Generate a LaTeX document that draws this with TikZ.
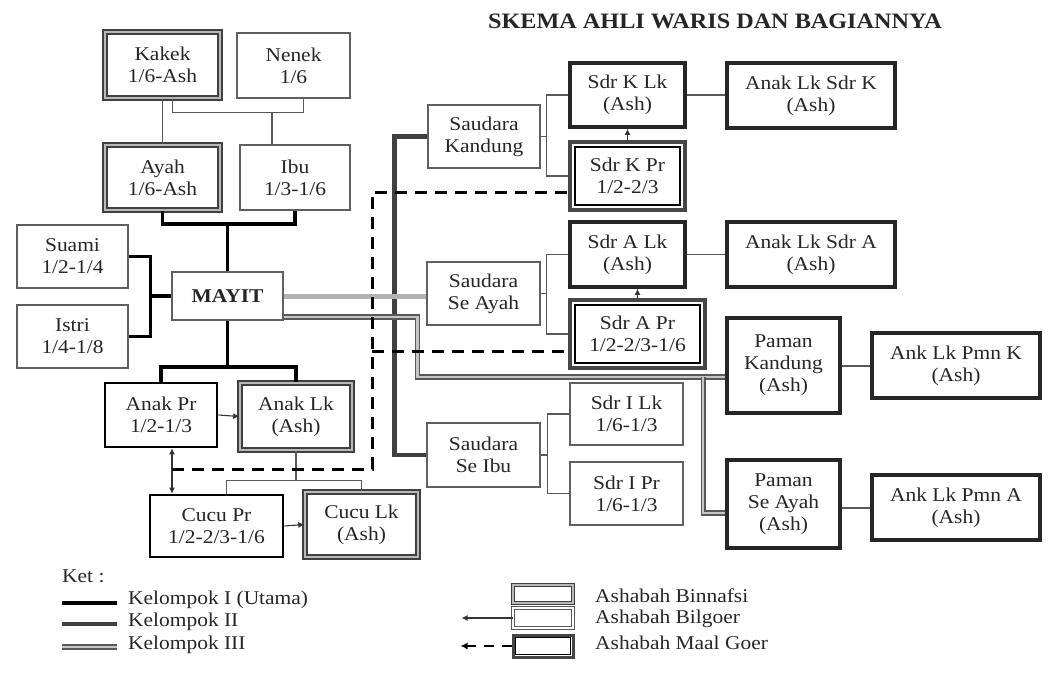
\documentclass[tikz,border=0pt]{standalone}
\usepackage{fontspec}
\setmainfont[FakeStretch=1.1]{Liberation Serif}
\usetikzlibrary{arrows.meta,calc}
\begin{document}
\begin{tikzpicture}[x=1pt,y=-1pt,
  box/.style={rectangle, inner sep=0pt, align=center, font=\fontsize{19.5}{22}\selectfont, text=black!85, fill=white},
  thinbox/.style={box, draw=gray!75!black, line width=1.3},
  blkbox/.style={box, draw=black, line width=2.6},
  ashbox/.style={box, draw=black!85, line width=3.6},
  binbox/.style={box, draw=black!75, line width=1.4, double=gray!55, double distance=2.6},
  maalbox/.style={box, draw=gray!55!black, line width=4.5},
  maalin/.style={draw=black, line width=2.2},
  thinline/.style={draw=gray!70!black, line width=1.3},
  k1/.style={draw=black, line width=3.6},
  k2/.style={draw=gray!50!black, line width=4.6},
  k2b/.style={draw=gray!60, line width=5},
  k3/.style={draw=black!65, line width=1.5, double=gray!45, double distance=2.4},
  bil/.style={draw=black!80, line width=1.1, -{Latex[length=6pt,width=6pt]}},
  bilboth/.style={draw=black!80, line width=1.1, {Latex[length=6pt,width=6pt]}-{Latex[length=6pt,width=6pt]}},
  maal/.style={draw=black, line width=3, dash pattern=on 12pt off 8pt},
  legtext/.style={anchor=west, inner sep=0pt, font=\fontsize{19.5}{22}\selectfont, text=black!85}
]
\useasboundingbox (0,0) rectangle (1054,685);

% title
\node[font=\fontsize{22}{24}\selectfont\bfseries, text=black!85] (title) at (715,21) {SKEMA AHLI WARIS DAN BAGIANNYA};

% left family
\node[binbox, minimum width=115, minimum height=66] (kakek) at (162.5,65) {Kakek\\1/6-Ash};
\node[thinbox, minimum width=113, minimum height=65] (nenek) at (293.5,65.5) {Nenek\\1/6};
\node[binbox, minimum width=115, minimum height=65] (ayah) at (162.5,177.5) {Ayah\\1/6-Ash};
\node[thinbox, minimum width=110, minimum height=65] (ibu) at (295,177.5) {Ibu\\1/3-1/6};
\node[thinbox, minimum width=111, minimum height=63] (suami) at (72.5,256.5) {Suami\\1/2-1/4};
\node[thinbox, minimum width=111, minimum height=63] (istri) at (72.5,336.5) {Istri\\1/4-1/8};
\node[thinbox, minimum width=111, minimum height=48, font=\fontsize{19.5}{22}\selectfont\bfseries] (mayit) at (227.5,296) {MAYIT};
\node[blkbox, minimum width=112, minimum height=64] (anakpr) at (161,415) {Anak Pr\\1/2-1/3};
\node[binbox, minimum width=112, minimum height=67] (anaklk) at (296,416.5) {Anak Lk\\(Ash)};
\node[blkbox, minimum width=133, minimum height=62] (cucupr) at (216.5,526) {Cucu Pr\\1/2-2/3-1/6};
\node[binbox, minimum width=113, minimum height=65] (cuculk) at (361.5,524.5) {Cucu Lk\\(Ash)};

% saudara
\node[thinbox, minimum width=112, minimum height=63] (sk) at (484,136.5) {Saudara\\Kandung};
\node[thinbox, minimum width=113, minimum height=63] (sa) at (483.5,293.5) {Saudara\\Se Ayah};
\node[thinbox, minimum width=113, minimum height=64] (si) at (483.5,455) {Saudara\\Se Ibu};
\node[ashbox, minimum width=115, minimum height=64] (sklk) at (627.5,95) {Sdr K Lk\\(Ash)};
\node[maalbox, minimum width=115, minimum height=68] (skpr) at (627.5,176) {Sdr K Pr\\1/2-2/3};
\draw[maalin] ([shift={(7,7)}]skpr.north west) rectangle ([shift={(-7,-7)}]skpr.south east);
\node[ashbox, minimum width=115, minimum height=65] (salk) at (627.5,254.5) {Sdr A Lk\\(Ash)};
\node[maalbox, minimum width=135, minimum height=68] (sapr) at (637.5,334) {Sdr A Pr\\1/2-2/3-1/6};
\draw[maalin] ([shift={(7,7)}]sapr.north west) rectangle ([shift={(-7,-7)}]sapr.south east);
\node[thinbox, minimum width=113, minimum height=62] (silk) at (626.5,414) {Sdr I Lk\\1/6-1/3};
\node[thinbox, minimum width=113, minimum height=63] (sipr) at (626.5,493.5) {Sdr I Pr\\1/6-1/3};
\node[ashbox, minimum width=168, minimum height=65] (alsk) at (811,95.5) {Anak Lk Sdr K\\(Ash)};
\node[ashbox, minimum width=168, minimum height=65] (alsa) at (811,254.5) {Anak Lk Sdr A\\(Ash)};
\node[ashbox, minimum width=113, minimum height=95] (pk) at (783.5,365.5) {Paman\\Kandung\\(Ash)};
\node[ashbox, minimum width=113, minimum height=88] (psa) at (783.5,504) {Paman\\Se Ayah\\(Ash)};
\node[ashbox, minimum width=168, minimum height=65] (alpk) at (956,365.5) {Ank Lk Pmn K\\(Ash)};
\node[ashbox, minimum width=168, minimum height=65] (alpa) at (956,507.5) {Ank Lk Pmn A\\(Ash)};

% connectors: grandparents
\draw[thinline] (kakek.south) -- (ayah.north);
\draw[thinline] ([xshift=10]kakek.south) -- ++(0,14) coordinate (kn) -| ([xshift=10]nenek.south);
\draw[thinline] ([xshift=-23]ibu.north) -- ([xshift=-23]ibu.north |- kn);

% kelompok I
\draw[k1] (ayah.south) -- ++(0,13) coordinate (ai) -| (ibu.south);
\draw[k1] (mayit.north) -- (mayit.north |- ai);
\draw[k1] (suami.east) -- ++(22,0) coordinate (sw) |- (istri.east);
\draw[k1] (mayit.west) -- (mayit.west -| sw);
\draw[k1] (anakpr.north) -- ++(0,-15) coordinate (ch) -| (anaklk.north);
\draw[k1] (mayit.south) -- (mayit.south |- ch);

% children / grandchildren
\draw[bil] (anakpr.east) -- (anaklk.west);
\draw[thinline] (anaklk.south) -- ++(0,30) coordinate (cc);
\draw[thinline] ([xshift=10]cucupr.north) |- (cc) -| (cuculk.north);
\draw[bilboth] ([xshift=11]anakpr.south) -- ([xshift=11]anakpr.south |- cucupr.north);
\draw[bil] (cucupr.east) -- (cuculk.west);

% kelompok II
\draw[k2] (sk.west) -- ++(-33,0) |- (si.west);
\draw[k2b] (mayit.east) -- (mayit.east -| sa.west);

% kelompok III
\coordinate (pkw) at ([shift={(0,11.5)}]pk.west);
\draw[k3] ([shift={(0,21)}]mayit.east) -- ++(134,0) |- (pkw);
\draw[k3] ([shift={(-22,0)}]pkw) |- ([shift={(0,9)}]psa.west);

% saudara brackets
\draw[thinline] (sklk.west) -- ++(-22,0) coordinate (b1) |- (skpr.west);
\draw[thinline] (sk.east) -- (sk.east -| b1);
\draw[thinline] (salk.west) -- ++(-22,0) coordinate (b2) |- (sapr.west);
\draw[thinline] (sa.east) -- (sa.east -| b2);
\draw[thinline] (silk.west) -- ++(-22,0) coordinate (b3) |- (sipr.west);
\draw[thinline] (si.east) -- (si.east -| b3);
\draw[bil] (skpr.north) -- (sklk.south);
\draw[bil] (sapr.north) -- (sapr.north |- salk.south);
\draw[thinline] (sklk.east) -- (sklk.east -| alsk.west);
\draw[thinline] (salk.east) -- (salk.east -| alsa.west);
\draw[thinline, line width=2] (pk.east) -- (pk.east -| alpk.west);
\draw[thinline, line width=2] (psa.east |- alpa.west) -- (alpa.west);

% maal goer dashed
\coordinate (dv) at ([shift={(211,21)}]anakpr.south);
\coordinate (skw) at ([shift={(0,16)}]skpr.west);
\coordinate (sapw) at ([shift={(0,17)}]sapr.west);
\draw[maal] ([shift={(11,21)}]anakpr.south) -- (dv) |- (skw);
\draw[maal] (dv |- sapw) -- (sapw);

% legend left
\node[legtext] (ket) at (62,576) {Ket :};
\node[legtext] (l1) at (128,600) {Kelompok I (Utama)};
\node[legtext] (l2) at (128,622) {Kelompok II};
\node[legtext] (l3) at (128,645) {Kelompok III};
\draw[k1] (62,603) -- (117,603);
\draw[k2] (62,624) -- (117,624);
\draw[k3] (62,647) -- (117,647);

% legend right
\node[box, minimum width=60, minimum height=18, draw=black!75, line width=1.2, double=gray!55, double distance=1.8] (lb1) at (543,594) {};
\node[box, minimum width=60, minimum height=20, draw=gray!70!black, line width=1, double=white, double distance=1.2] (lb2) at (543,618) {};
\node[box, minimum width=60, minimum height=22, draw=gray!55!black, line width=3] (lb3) at (543,646) {};
\draw[draw=black, line width=1.3] ([shift={(4,4)}]lb3.north west) rectangle ([shift={(-4,-4)}]lb3.south east);
\node[legtext] (t1) at (595,596) {Ashabah Binnafsi};
\node[legtext] (t2) at (595,619) {Ashabah Bilgoer};
\node[legtext] (t3) at (595,643) {Ashabah Maal Goer};
\draw[bil] (lb2.west) -- ++(-51,0) coordinate (a2);
\draw[draw=black, line width=2.5, dash pattern=on 10pt off 8pt, -{Latex[length=7pt,width=7pt]}] (lb3.west) -- ++(-51,0) coordinate (a3);
\end{tikzpicture}
\end{document}
